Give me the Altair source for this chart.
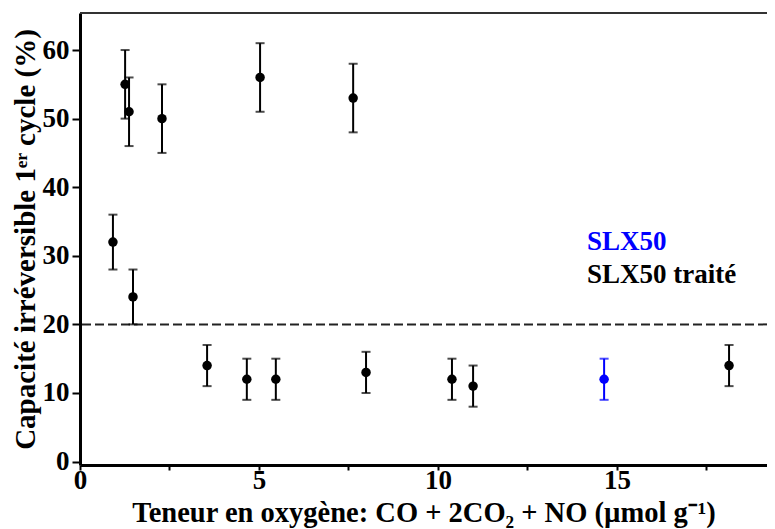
import altair as alt
import pandas as pd

# Data
x_vals = [0.92, 1.26, 1.37, 1.48, 2.29, 5.03, 7.63, 3.55, 4.66, 5.47, 7.99, 10.39, 10.98, 18.13, 14.64]
y_vals = [32, 55, 51, 24, 50, 56, 53, 14, 12, 12, 13, 12, 11, 14, 12]
err_vals = [4, 5, 5, 4, 5, 5, 5, 3, 3, 3, 3, 3, 3, 3, 3]
series = ["SLX50 traité"] * 14 + ["SLX50"]

legend_labels = ["SLX50", "SLX50 traité"]
legend_x = [14.16, 14.16]
legend_y = [30.85, 26.0]

threshold = [20]
x_ticks = [0, 2.5, 5, 7.5, 10, 12.5, 15, 17.5]
y_ticks = [0, 10, 20, 30, 40, 50, 60]

df = pd.DataFrame({"x": x_vals, "y": y_vals, "err": err_vals, "series": series})
df["lo"] = df["y"] - df["err"]
df["hi"] = df["y"] + df["err"]

W, H = 687, 452
FONT = "Liberation Serif"

xscale = alt.Scale(domain=[0, 19.19], nice=False, zero=False)
yscale = alt.Scale(domain=[-0.5, 65.4], nice=False, zero=False)
color = alt.Color("series:N", scale=alt.Scale(domain=legend_labels, range=["#0000ff", "#000000"]), legend=None)

xaxis = alt.Axis(values=x_ticks, title="Teneur en oxygène: CO + 2CO₂ + NO (µmol g⁻¹)",
                 labelExpr="datum.value % 5 == 0 ? datum.label : ''",
                 grid=False, domainWidth=3, domainColor="black", tickColor="black",
                 tickWidth=2, tickSize=5, labelPadding=-3, labelFont=FONT, labelFontSize=27,
                 labelFontWeight="bold", labelColor="black", titleFont=FONT, titleFontSize=28.5,
                 titleFontWeight="bold", titleColor="black", titleBaseline="alphabetic",
                 titleY=56, labelFlush=False)
yaxis = alt.Axis(values=y_ticks, title="Capacité irréversible 1ᵉʳ cycle (%)",
                 grid=False, domainWidth=3, domainColor="black", tickColor="black",
                 tickWidth=2, tickSize=8, labelPadding=3, labelFont=FONT, labelFontSize=27,
                 labelFontWeight="bold", labelColor="black", titleFont=FONT, titleFontSize=29,
                 titleFontWeight="bold", titleColor="black", titlePadding=2, labelFlush=False)

base = alt.Chart(df)

bars = base.mark_rule(strokeWidth=2).encode(
    x=alt.X("x:Q", scale=xscale, axis=xaxis),
    y=alt.Y("lo:Q", scale=yscale, axis=yaxis),
    y2="hi:Q",
    color=color,
)
caps_lo = base.mark_tick(orient="horizontal", size=9, thickness=2).encode(
    x=alt.X("x:Q", scale=xscale), y=alt.Y("lo:Q", scale=yscale), color=color)
caps_hi = base.mark_tick(orient="horizontal", size=9, thickness=2).encode(
    x=alt.X("x:Q", scale=xscale), y=alt.Y("hi:Q", scale=yscale), color=color)
points = base.mark_circle(size=90, opacity=1).encode(
    x=alt.X("x:Q", scale=xscale), y=alt.Y("y:Q", scale=yscale), color=color)

dash = alt.Chart(pd.DataFrame({"t": threshold})).mark_rule(
    strokeDash=[9, 4], strokeWidth=2, color="#222222").encode(
    y=alt.Y("t:Q", scale=yscale))

top = alt.Chart(pd.DataFrame({"t": threshold})).mark_rule(strokeWidth=2, color="#333333").encode(
    x=alt.value(0), x2=alt.value(W), y=alt.value(0))

leg = alt.Chart(pd.DataFrame({"label": legend_labels, "lx": legend_x, "ly": legend_y})).mark_text(
    align="left", baseline="alphabetic", font=FONT, fontSize=27, fontWeight="bold").encode(
    x=alt.X("lx:Q", scale=xscale), y=alt.Y("ly:Q", scale=yscale),
    text="label:N",
    color=alt.Color("label:N", scale=alt.Scale(domain=legend_labels, range=["#0000ff", "#000000"]), legend=None),
)

chart = alt.layer(top, dash, bars, caps_lo, caps_hi, points, leg).properties(
    width=W, height=H,
    autosize=alt.AutoSizeParams(type="none"),
    padding={"left": 72, "top": 5, "right": 0, "bottom": 63},
).configure_view(stroke=None).configure(background="white")

chart.save("out.html", embed_options={"renderer": "svg", "actions": False})
